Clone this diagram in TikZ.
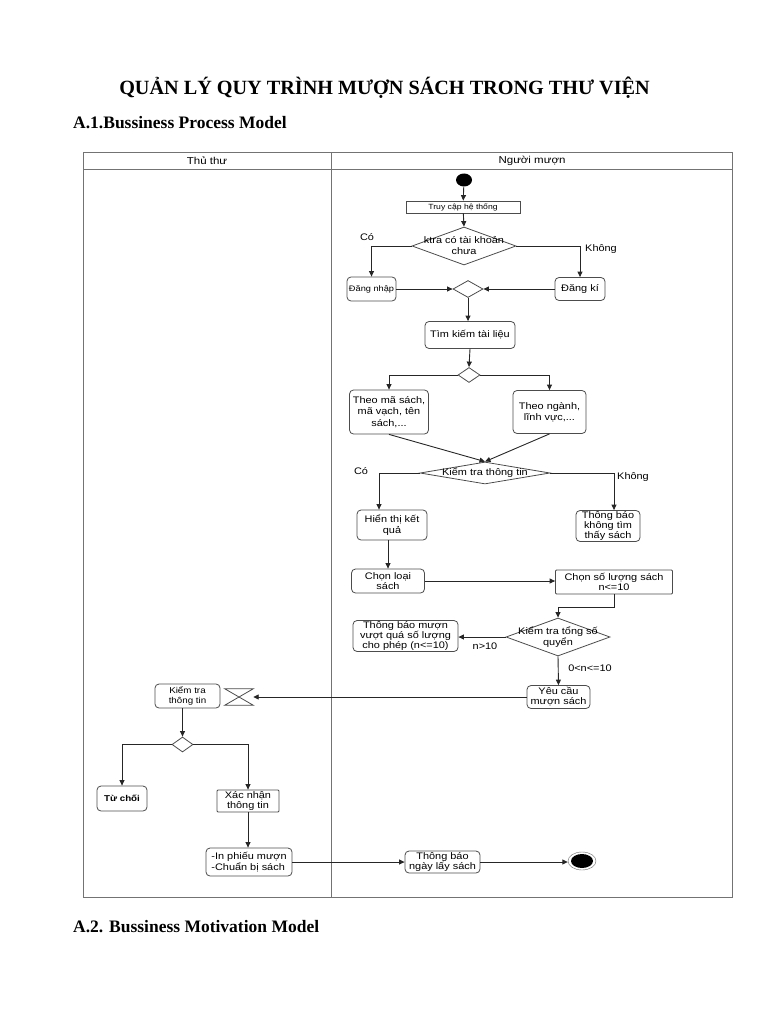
\documentclass[tikz,border=0pt]{standalone}
\usepackage{fontspec}
\setmainfont{Liberation Serif}
\newfontfamily\dgfont[FakeStretch=1.15]{Liberation Sans}
\usetikzlibrary{arrows.meta,shapes.geometric}

\tikzset{
  act/.style={draw=black!70, line width=0.8pt, rounded corners=4pt, align=center, inner sep=1pt,
    font=\dgfont\fontsize{9.5}{11.5}\selectfont},
  dec/.style={draw=black!70, line width=0.8pt, diamond, inner sep=0pt},
  dectext/.style={font=\dgfont\fontsize{9.5}{11}\selectfont, align=center, inner sep=0pt},
  lbl/.style={font=\dgfont\fontsize{9.5}{11}\selectfont, inner sep=0pt},
  hdr/.style={font=\dgfont\fontsize{10}{12}\selectfont, inner sep=0pt},
  lane/.style={draw=black!55, line width=0.9pt},
  arr/.style={draw=black!85, line width=0.9pt, -{Triangle[length=5.5pt,width=5pt]}}
}

\begin{document}
\begin{tikzpicture}[x=1pt,y=-1pt]
\useasboundingbox (0,0) rectangle (768,1024);

% Tieu de
\node[font=\bfseries\fontsize{20.2}{24}\selectfont, inner sep=0pt] (title) at (384.5,88) {QUẢN LÝ QUY TRÌNH MƯỢN SÁCH TRONG THƯ VIỆN};
\node[font=\bfseries\fontsize{17.5}{20}\selectfont, inner sep=0pt, anchor=west] (secA) at (73,123) {A.1.Bussiness Process Model};
\node[font=\bfseries\fontsize{17.5}{20}\selectfont, inner sep=0pt, anchor=west] (secB) at (73,927) {A.2. Bussiness Motivation Model};

% Lan boi
\draw[lane] (83,152) rectangle (732,897);
\draw[lane] (83,169) -- (732,169);
\draw[lane] (331.5,152) -- (331.5,897);
\node[hdr] (hThuThu) at (207,161) {Thủ thư};
\node[hdr] (hNguoiMuon) at (532,161) {Người mượn};

% Nguoi muon
\node[ellipse, fill=black, minimum width=16pt, minimum height=13pt, inner sep=0pt] (start) at (464,180) {};
\node[act, rounded corners=0pt, minimum width=114pt, minimum height=12pt, font=\dgfont\fontsize{7.5}{9}\selectfont] (truyCap) at (463,207) {Truy cập hệ thống};
\node[dec, minimum width=104pt, minimum height=38pt,
  label={[dectext]center:ktra có tài khoản\\chưa}] (dTaiKhoan) at (464,246) {};
\node[act, minimum width=49pt, minimum height=24pt, font=\dgfont\fontsize{8}{10}\selectfont] (dangNhap) at (371.5,289) {Đăng nhập};
\node[dec, minimum width=30pt, minimum height=17pt] (mGop) at (468,289) {};
\node[act, minimum width=50pt, minimum height=23pt] (dangKi) at (580,289) {Đăng kí};
\node[act, minimum width=90pt, minimum height=27pt] (timKiem) at (470,335) {Tìm kiếm tài liệu};
\node[dec, minimum width=22pt, minimum height=15pt] (dTim) at (469,375) {};
\node[act, minimum width=79pt, minimum height=44pt] (theoMa) at (389,412) {Theo mã sách,\\mã vạch, tên\\sách,...};
\node[act, minimum width=73pt, minimum height=43pt] (theoNganh) at (549.5,412) {Theo ngành,\\lĩnh vực,...};
\node[dec, minimum width=130pt, minimum height=22pt,
  label={[dectext]center:Kiểm tra thông tin}] (dThongTin) at (485,473) {};
\node[act, minimum width=70pt, minimum height=30pt] (hienThi) at (392,525) {Hiển thị kết\\quả};
\node[act, minimum width=64pt, minimum height=31pt, font=\dgfont\fontsize{9.5}{10}\selectfont] (khongThay) at (608,526) {Thông báo\\không tìm\\thấy sách};
\node[act, minimum width=73pt, minimum height=24pt, font=\dgfont\fontsize{9.5}{10.5}\selectfont] (chonLoai) at (388,581) {Chọn loại\\sách};
\node[act, rounded corners=1pt, minimum width=117pt, minimum height=24pt, font=\dgfont\fontsize{9.5}{10.5}\selectfont] (chonSoLuong) at (614,582) {Chọn số lượng sách\\n<=10};
\node[dec, minimum width=104pt, minimum height=38pt,
  label={[dectext]center:Kiểm tra tổng số\\quyển}] (dTongSo) at (558,637) {};
\node[act, minimum width=105pt, minimum height=30pt, font=\dgfont\fontsize{9.5}{10}\selectfont] (vuotQua) at (405.5,636) {Thông báo mượn\\vượt quá số lượng\\cho phép (n<=10)};
\node[act, minimum width=63pt, minimum height=23pt, font=\dgfont\fontsize{9.5}{10}\selectfont] (yeuCau) at (558.5,697) {Yêu cầu\\mượn sách};
\node[act, minimum width=75pt, minimum height=22pt, font=\dgfont\fontsize{9.5}{10}\selectfont] (thongBaoNgay) at (442.5,862) {Thông báo\\ngày lấy sách};
\node[ellipse, draw=black!60, minimum width=28pt, minimum height=18pt, inner sep=0pt] (stop) at (582,861) {};
\fill (stop.center) ellipse (11pt and 7pt);

% Thu thu
\node[act, minimum width=65pt, minimum height=24pt, font=\dgfont\fontsize{8.5}{10}\selectfont] (kiemTra) at (187.5,696) {Kiểm tra\\thông tin};
\node[minimum width=28pt, minimum height=16pt, inner sep=0pt] (hourglass) at (239,697) {};
\draw[draw=black!70, line width=0.8pt] (hourglass.north west) -- (hourglass.north east) -- (hourglass.south west) -- (hourglass.south east) -- cycle;
\node[dec, minimum width=21pt, minimum height=15pt] (dDuyet) at (182.5,744.5) {};
\node[act, minimum width=50pt, minimum height=25pt, font=\dgfont\bfseries\fontsize{8.5}{10}\selectfont] (tuChoi) at (122,798.5) {Từ chối};
\node[act, rounded corners=1pt, minimum width=62pt, minimum height=22pt, font=\dgfont\fontsize{9.5}{10}\selectfont] (xacNhan) at (248,801) {Xác nhận\\thông tin};
\node[act, minimum width=86pt, minimum height=28pt, align=left, font=\dgfont\fontsize{9.5}{11}\selectfont] (inPhieu) at (249,862) {-In phiếu mượn\\-Chuẩn bị sách};

% Nhan
\node[lbl] (coA) at (367,237) {Có};
\node[lbl] (khongA) at (601,249) {Không};
\node[lbl] (coB) at (361,471) {Có};
\node[lbl] (khongB) at (633,477) {Không};
\node[lbl] (nLon) at (485,646) {n>10};
\node[lbl] (nHop) at (590,668) {0<n<=10};

% Luong
\draw[arr] (start) -- (truyCap);
\draw[arr] (truyCap) -- (dTaiKhoan.north);
\draw[arr] (dTaiKhoan.west) -| (dangNhap.north);
\draw[arr] (dTaiKhoan.east) -| (dangKi.north);
\draw[arr] (dangNhap.east) -- (mGop.west);
\draw[arr] (dangKi.west) -- (mGop.east);
\draw[arr] (mGop.south) -- (mGop.south |- timKiem.north);
\draw[arr] (timKiem.south) -- (dTim.north);
\draw[arr] (dTim.west) -| (theoMa.north);
\draw[arr] (dTim.east) -| (theoNganh.north);
\draw[arr] (theoMa.south) -- (dThongTin.north);
\draw[arr] (theoNganh.south) -- (dThongTin.north);
\draw[arr] (dThongTin.west) -| ([xshift=-13pt]hienThi.north);
\draw[arr] (dThongTin.east) -| ([xshift=6pt]khongThay.north);
\draw[arr] (chonLoai.north |- hienThi.south) -- (chonLoai.north);
\draw[arr] (chonLoai.east) -- (chonLoai.east -| chonSoLuong.west);
\draw[arr] (chonSoLuong.south) -- ++(0,13) -| (dTongSo.north);
\draw[arr] (dTongSo.west) -- (dTongSo.west -| vuotQua.east);
\draw[arr] (dTongSo.south) -- (yeuCau.north);
\draw[arr] (yeuCau.west) -- (yeuCau.west -| hourglass.east);
\draw[arr] (dDuyet.north |- kiemTra.south) -- (dDuyet.north);
\draw[arr] (dDuyet.west) -| (tuChoi.north);
\draw[arr] (dDuyet.east) -| (xacNhan.north);
\draw[arr] (xacNhan.south) -- (xacNhan.south |- inPhieu.north);
\draw[arr] (inPhieu.east) -- (inPhieu.east -| thongBaoNgay.west);
\draw[arr] (thongBaoNgay.east) -- (thongBaoNgay.east -| stop.west);
\end{tikzpicture}
\end{document}
